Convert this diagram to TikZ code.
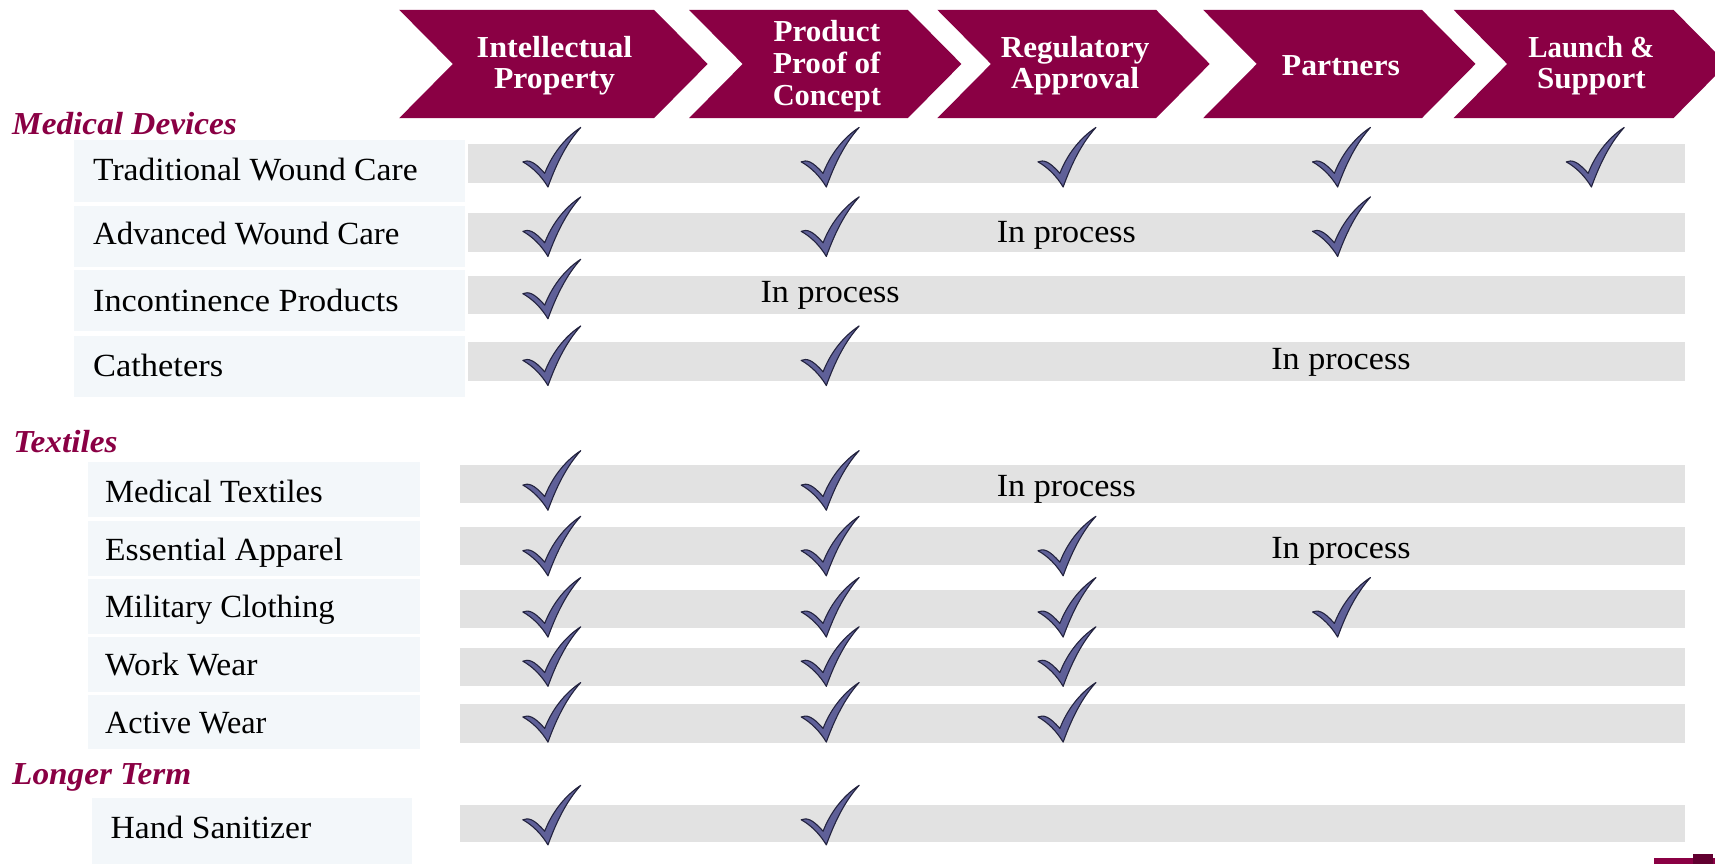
\documentclass[tikz,border=0pt]{standalone}
\usepackage{fontspec}
\setmainfont{Liberation Serif}[FakeStretch=1.04]
\definecolor{crim}{HTML}{8A0044}
\definecolor{boxc}{HTML}{F3F7FA}
\definecolor{barc}{HTML}{E2E2E2}
\definecolor{chk}{HTML}{5F6098}
\definecolor{chkl}{HTML}{23233F}
\newcommand{\sx}[2]{\scalebox{#1}[1]{#2}}
\tikzset{
  chev/.style={fill=crim,draw=none},
  chevtext/.style={text=white,font=\fontsize{30.5}{31.7}\selectfont\bfseries,align=center,inner sep=0pt},
  rowtext/.style={anchor=base west,text=black,font=\fontsize{32.3}{35}\selectfont,inner sep=0pt},
  proc/.style={anchor=base,text=black,font=\fontsize{32.3}{35}\selectfont,inner sep=0pt},
  head/.style={anchor=base west,text=crim,font=\fontsize{32}{35}\selectfont\bfseries\itshape,inner sep=0pt},
  checkmark/.pic={
    \path[fill=chk,draw=chkl,line width=1.1pt,line join=round]
      (-23,-23) .. controls (-18,-25) and (-13,-24) .. (-3,-12.5)
      .. controls (3,-28) and (14,-44) .. (30,-54.5)
      .. controls (17,-40) and (8,-22) .. (0,0)
      .. controls (-6,-10) and (-14,-18) .. (-23,-23) -- cycle;
  }
}
\newcommand{\chk}[2]{\pic at (#1,#2) {checkmark};}
\begin{document}
\begin{tikzpicture}[x=1.09375pt,y=-1.09375pt]
\useasboundingbox (0,0) rectangle (1568,790);
\clip (0,0) rectangle (1568,790);
% chevrons
\path[chev] (365,9) -- (598,9) -- (647,58.5) -- (598,108) -- (365,108) -- (414,58.5) -- cycle;
\path[chev] (630,9) -- (830,9) -- (879,58.5) -- (830,108) -- (630,108) -- (679,58.5) -- cycle;
\path[chev] (857,9) -- (1057,9) -- (1106,58.5) -- (1057,108) -- (857,108) -- (906,58.5) -- cycle;
\path[chev] (1100,9) -- (1300,9) -- (1349,58.5) -- (1300,108) -- (1100,108) -- (1149,58.5) -- cycle;
\path[chev] (1329,9) -- (1530,9) -- (1579,58.5) -- (1530,108) -- (1329,108) -- (1378,58.5) -- cycle;
\node[chevtext] (c1) at (507,60) {\sx{1.015}{Intellectual}\\Property};
\node[chevtext] (c2) at (756,60.5) {\sx{.98}{Product}\\\sx{.98}{Proof of}\\\sx{.96}{Concept}};
\node[chevtext] (c3) at (983,60) {\sx{.98}{Regulatory}\\Approval};
\node[chevtext] (c4) at (1226,60) {Partners};
\node[chevtext] (c5) at (1455,60) {\sx{.91}{Launch \&}\\\sx{.98}{Support}};
% headings
\node[head] (h1) at (11,123) {Medical Devices};
\node[head] (h2) at (12,414) {Textiles};
\node[head] (h3) at (11,717) {Longer Term};
% left boxes
\fill[boxc] (68,128) rectangle (425,185);
\fill[boxc] (68,188) rectangle (425,244);
\fill[boxc] (68,247) rectangle (425,303);
\fill[boxc] (68,307) rectangle (425,363);
\fill[boxc] (80,422) rectangle (384,473);
\fill[boxc] (80,476) rectangle (384,527);
\fill[boxc] (80,529) rectangle (384,580);
\fill[boxc] (80,582) rectangle (384,633);
\fill[boxc] (80,635) rectangle (384,685);
\fill[boxc] (84,730) rectangle (377,790);
% grey bars
\fill[barc] (428,132) rectangle (1541,167);
\fill[barc] (428,195) rectangle (1541,230);
\fill[barc] (428,252) rectangle (1541,287);
\fill[barc] (428,313) rectangle (1541,348);
\fill[barc] (421,425) rectangle (1541,460);
\fill[barc] (421,482) rectangle (1541,517);
\fill[barc] (421,539) rectangle (1541,574);
\fill[barc] (421,592) rectangle (1541,627);
\fill[barc] (421,644) rectangle (1541,679);
\fill[barc] (421,736) rectangle (1541,770);
% row labels
\node[rowtext] (r1) at (85,165) {Traditional Wound Care};
\node[rowtext] (r2) at (85,224) {\sx{.98}{Advanced Wound Care}};
\node[rowtext] (r3) at (85,285) {\sx{1.02}{Incontinence Products}};
\node[rowtext] (r4) at (85,344) {\sx{1.025}{Catheters}};
\node[rowtext] (r5) at (96,459) {\sx{.97}{Medical Textiles}};
\node[rowtext] (r6) at (96,512) {Essential Apparel};
\node[rowtext] (r7) at (96,565) {\sx{.972}{Military Clothing}};
\node[rowtext] (r8) at (96,618) {Work Wear};
\node[rowtext] (r9) at (96,671) {\sx{.96}{Active Wear}};
\node[rowtext] (r10) at (101,767) {Hand Sanitizer};
% in process
\node[proc] (p1) at (975,221.5) {\sx{1.015}{In process}};
\node[proc] (p2) at (759,276.5) {\sx{1.015}{In process}};
\node[proc] (p3) at (1226,337.5) {\sx{1.015}{In process}};
\node[proc] (p4) at (975,453.5) {\sx{1.015}{In process}};
\node[proc] (p5) at (1226,510.5) {\sx{1.015}{In process}};
% checks
\foreach \x in {501,755.5,972,1223,1455} {\chk{\x}{171}}
\foreach \x in {501,755.5,1223} {\chk{\x}{234.5}}
\chk{501}{291.5}
\foreach \x in {501,755.5} {\chk{\x}{352.5}}
\foreach \x in {501,755.5} {\chk{\x}{466.5}}
\foreach \x in {501,755.5,972} {\chk{\x}{526.5}}
\foreach \x in {501,755.5,972,1223} {\chk{\x}{582.5}}
\foreach \x in {501,755.5,972} {\chk{\x}{627.5}}
\foreach \x in {501,755.5,972} {\chk{\x}{678.5}}
\foreach \x in {501,755.5} {\chk{\x}{772.5}}
% logo fragment
\fill[crim] (1512,784) rectangle (1568,790);
\fill[crim!70!black] (1548,781) rectangle (1566,790);
\end{tikzpicture}
\end{document}
